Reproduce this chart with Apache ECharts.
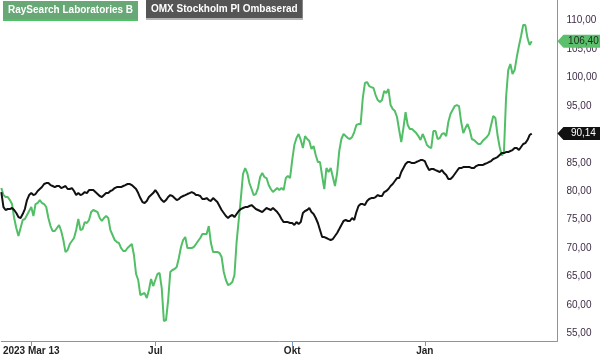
<!DOCTYPE html>
<html><head><meta charset="utf-8">
<script src="https://cdn.jsdelivr.net/npm/echarts@6/dist/echarts.min.js"></script>
<style>html,body{margin:0;padding:0;background:#fff}#c{width:600px;height:357px}</style>
</head><body><div id="c"></div>
<script>
// Category slots (one per sampled trading period); extra trailing slots leave room before the axis
const slotCount = 261;
const categories = Array.from({length: slotCount}, (_, i) => String(i));
// Tick labels by slot index
const tickIndex = [14, 72, 136, 198];
const tickText = ['2023 Mar 13', 'Jul', 'Okt', 'Jan'];
const yTicks = [55, 60, 65, 70, 75, 80, 85, 90, 95, 100, 105, 110];

const raysearch = [
80.56,79.33,79.0,78.98,78.45,77.75,75.29,73.53,72.12,73.53,
74.94,75.11,75.82,76.52,77.22,75.64,77.75,77.93,78.45,77.93,
77.75,77.22,75.29,73.88,73.0,73.0,73.53,74.06,73.0,71.42,
69.3,69.66,70.71,71.24,71.77,73.17,75.11,73.17,73.35,74.58,
74.41,74.94,76.34,76.7,76.52,76.34,75.29,74.76,75.29,75.64,
75.29,73.17,72.3,71.42,71.06,70.89,70.01,69.48,69.48,70.01,
70.36,70.71,68.78,65.44,64.38,61.74,61.92,62.09,61.21,62.62,
64.55,63.32,64.38,65.44,65.61,62.97,57.17,57.34,60.86,65.79,
66.14,66.32,66.67,68.25,70.19,71.42,71.94,70.01,70.01,70.01,
70.19,70.71,71.24,71.77,72.47,72.47,72.47,73.88,70.89,69.31,
69.31,69.31,69.13,68.43,65.79,64.38,63.5,63.67,64.03,65.26,
71.06,74.94,78.8,83.03,84.08,83.2,81.44,80.39,79.33,79.51,
80.56,82.5,83.2,82.5,82.32,81.09,80.39,79.86,80.21,80.56,
80.21,80.56,80.21,82.32,82.68,82.32,85.49,88.13,89.36,90.07,
89.01,87.6,89.71,89.19,88.83,87.43,87.95,86.37,85.14,85.14,
82.68,80.39,84.08,83.38,84.08,82.5,80.92,83.2,87.08,89.19,
90.07,89.71,89.36,89.19,89.54,90.42,91.65,91.82,91.82,96.4,
99.04,99.21,98.51,98.33,98.16,96.93,96.05,95.7,96.05,97.63,
97.28,97.98,95.17,94.46,94.11,93.06,90.77,88.66,91.12,93.9,
91.65,90.94,90.94,90.59,90.24,89.71,89.01,90.07,89.19,88.13,
87.78,87.6,90.59,90.59,89.19,89.36,90.07,90.24,89.71,92.18,
93.58,94.29,94.99,95.17,94.99,92.18,90.24,91.12,91.82,90.77,
89.19,89.01,88.66,88.31,88.31,88.83,89.19,89.54,90.07,91.65,
93.23,92.88,89.89,87.78,86.3,86.9,96.58,101.32,102.38,100.62,
101.32,103.61,105.55,107.31,109.24,109.24,106.95,105.72,106.40];

const omx = [
79.86,77.22,76.7,76.87,76.87,77.05,76.7,76.17,75.46,75.29,
75.99,76.87,78.45,79.33,79.68,79.33,79.51,80.04,80.39,80.74,
81.27,81.44,81.44,81.09,80.92,80.74,80.92,80.92,80.56,80.74,
80.92,80.39,80.39,80.56,80.04,79.33,79.68,79.33,79.51,79.86,
79.68,80.21,80.21,80.21,79.86,79.51,79.16,78.98,79.33,79.68,
79.68,80.04,80.21,80.56,80.74,80.74,80.74,80.92,81.09,81.27,
81.27,81.09,80.74,80.39,79.68,78.8,78.1,77.93,78.28,78.98,
79.33,79.68,80.21,79.68,78.98,78.45,78.1,78.45,78.98,79.33,
79.16,78.8,78.45,78.63,78.98,79.16,79.33,79.51,79.68,79.86,
79.68,79.33,79.33,79.16,78.63,78.63,78.8,78.45,78.28,78.8,
78.45,78.1,77.4,76.7,76.17,75.64,75.29,75.64,75.82,75.46,
75.99,76.52,76.87,77.05,77.22,77.22,77.4,77.57,77.22,76.87,
76.7,76.52,76.34,76.7,77.05,76.87,76.7,77.05,76.7,76.34,
75.82,75.11,74.58,74.58,74.58,74.41,74.41,74.06,74.58,74.23,
74.58,76.17,76.52,76.7,77.05,76.34,75.99,75.29,74.41,73.17,
71.94,71.94,71.77,71.59,71.42,71.59,72.12,72.65,73.35,74.06,
74.76,74.94,74.76,74.76,75.29,74.94,76.34,77.4,77.75,77.75,
77.57,78.28,78.63,78.8,78.8,78.98,79.33,79.16,79.16,79.86,
80.04,80.39,80.92,81.27,81.8,82.32,82.32,83.38,84.08,84.79,
85.14,85.14,84.96,84.96,85.14,85.31,85.49,85.49,85.31,84.43,
83.73,83.91,83.91,83.73,83.56,83.38,83.73,83.2,82.85,82.15,
82.15,82.5,83.03,83.56,84.08,84.08,84.26,84.26,84.26,84.26,
84.08,84.08,84.43,84.61,84.61,84.61,84.79,84.96,85.14,85.31,
85.67,85.84,86.02,86.37,86.72,86.72,86.9,86.9,87.08,87.25,
87.6,87.6,87.25,87.78,88.31,88.48,89.01,89.89,90.14];

const fmt = v => Number(v).toFixed(2).replace('.', ',');
const axisBlue = '#6e9cc6';
const green = '#52bf67';
const font = 'Liberation Sans, Arial, sans-serif';
const narrow = 'Liberation Sans Narrow, Arial Narrow, Liberation Sans, sans-serif';

function endTag(values, bg, fg) {
  const last = values[values.length - 1];
  return {
    silent: true,
    animation: false,
    symbol: 'path://M0,6.5L6,0L44,0L44,13L6,13Z',
    symbolSize: [44, 13],
    symbolOffset: [22, 0],
    symbolKeepAspect: false,
    itemStyle: {color: bg},
    label: {show: true, position: 'inside', offset: [4, 0], color: fg,
      fontFamily: narrow, fontSize: 10, formatter: p => fmt(p.value)},
    data: [{coord: [categories[slotCount - 1], last], value: last}]
  };
}

const chart = echarts.init(document.getElementById('c'), null, {renderer: 'canvas'});
chart.setOption({
  animation: false,
  backgroundColor: '#ffffff',
  grid: {left: 0, right: 41, top: 0, bottom: 16, containLabel: false},
  title: [
    {text: 'RaySearch Laboratories B', left: 3, top: 1, padding: [4, 5, 4, 5],
     backgroundColor: '#68a876',
     textStyle: {color: '#ffffff', fontSize: 10, fontWeight: 'bold', fontFamily: font}},
    {text: 'OMX Stockholm PI Ombaserad', left: 146, top: 0, padding: [4, 5, 4, 5],
     backgroundColor: '#555555',
     textStyle: {color: '#ffffff', fontSize: 10, fontWeight: 'bold', fontFamily: font}}
  ],
  graphic: [
    {type: 'rect', left: 3, top: 19, shape: {width: 135, height: 2}, style: {fill: '#4cc262'}},
    {type: 'rect', left: 146, top: 18, shape: {width: 157, height: 2}, style: {fill: '#b5b5b5'}}
  ],
  xAxis: {
    type: 'category', data: categories, boundaryGap: false,
    axisLine: {show: true, lineStyle: {color: axisBlue, width: 1}},
    axisTick: {show: true, length: 5, lineStyle: {color: axisBlue},
      interval: (i) => tickIndex.includes(i)},
    axisLabel: {show: true, margin: 5, color: '#222222', fontSize: 10, fontWeight: 'bold',
      fontFamily: font,
      interval: (i) => tickIndex.includes(i),
      formatter: (v) => { const k = tickIndex.indexOf(Number(v)); return k >= 0 ? tickText[k] : ''; }},
    splitLine: {show: false}
  },
  yAxis: {
    type: 'value', position: 'right', min: 53.65, max: 113.65,
    axisLine: {show: true, lineStyle: {color: axisBlue, width: 1}},
    axisTick: {show: false},
    splitLine: {show: false},
    axisLabel: {show: true, margin: 9, color: '#3f2d47', fontSize: 10, fontFamily: narrow,
      customValues: yTicks, formatter: v => fmt(v)}
  },
  series: [
    {name: 'RaySearch Laboratories B', type: 'line', data: raysearch, showSymbol: false,
     clip: false, z: 3,
     lineStyle: {color: green, width: 2}, itemStyle: {color: green},
     markPoint: endTag(raysearch, '#5cbf6c', '#1c2a1c')},
    {name: 'OMX Stockholm PI Ombaserad', type: 'line', data: omx, showSymbol: false,
     clip: false, z: 4,
     lineStyle: {color: '#111111', width: 2}, itemStyle: {color: '#111111'},
     markPoint: endTag(omx, '#111111', '#ffffff')}
  ]
});
</script></body></html>
